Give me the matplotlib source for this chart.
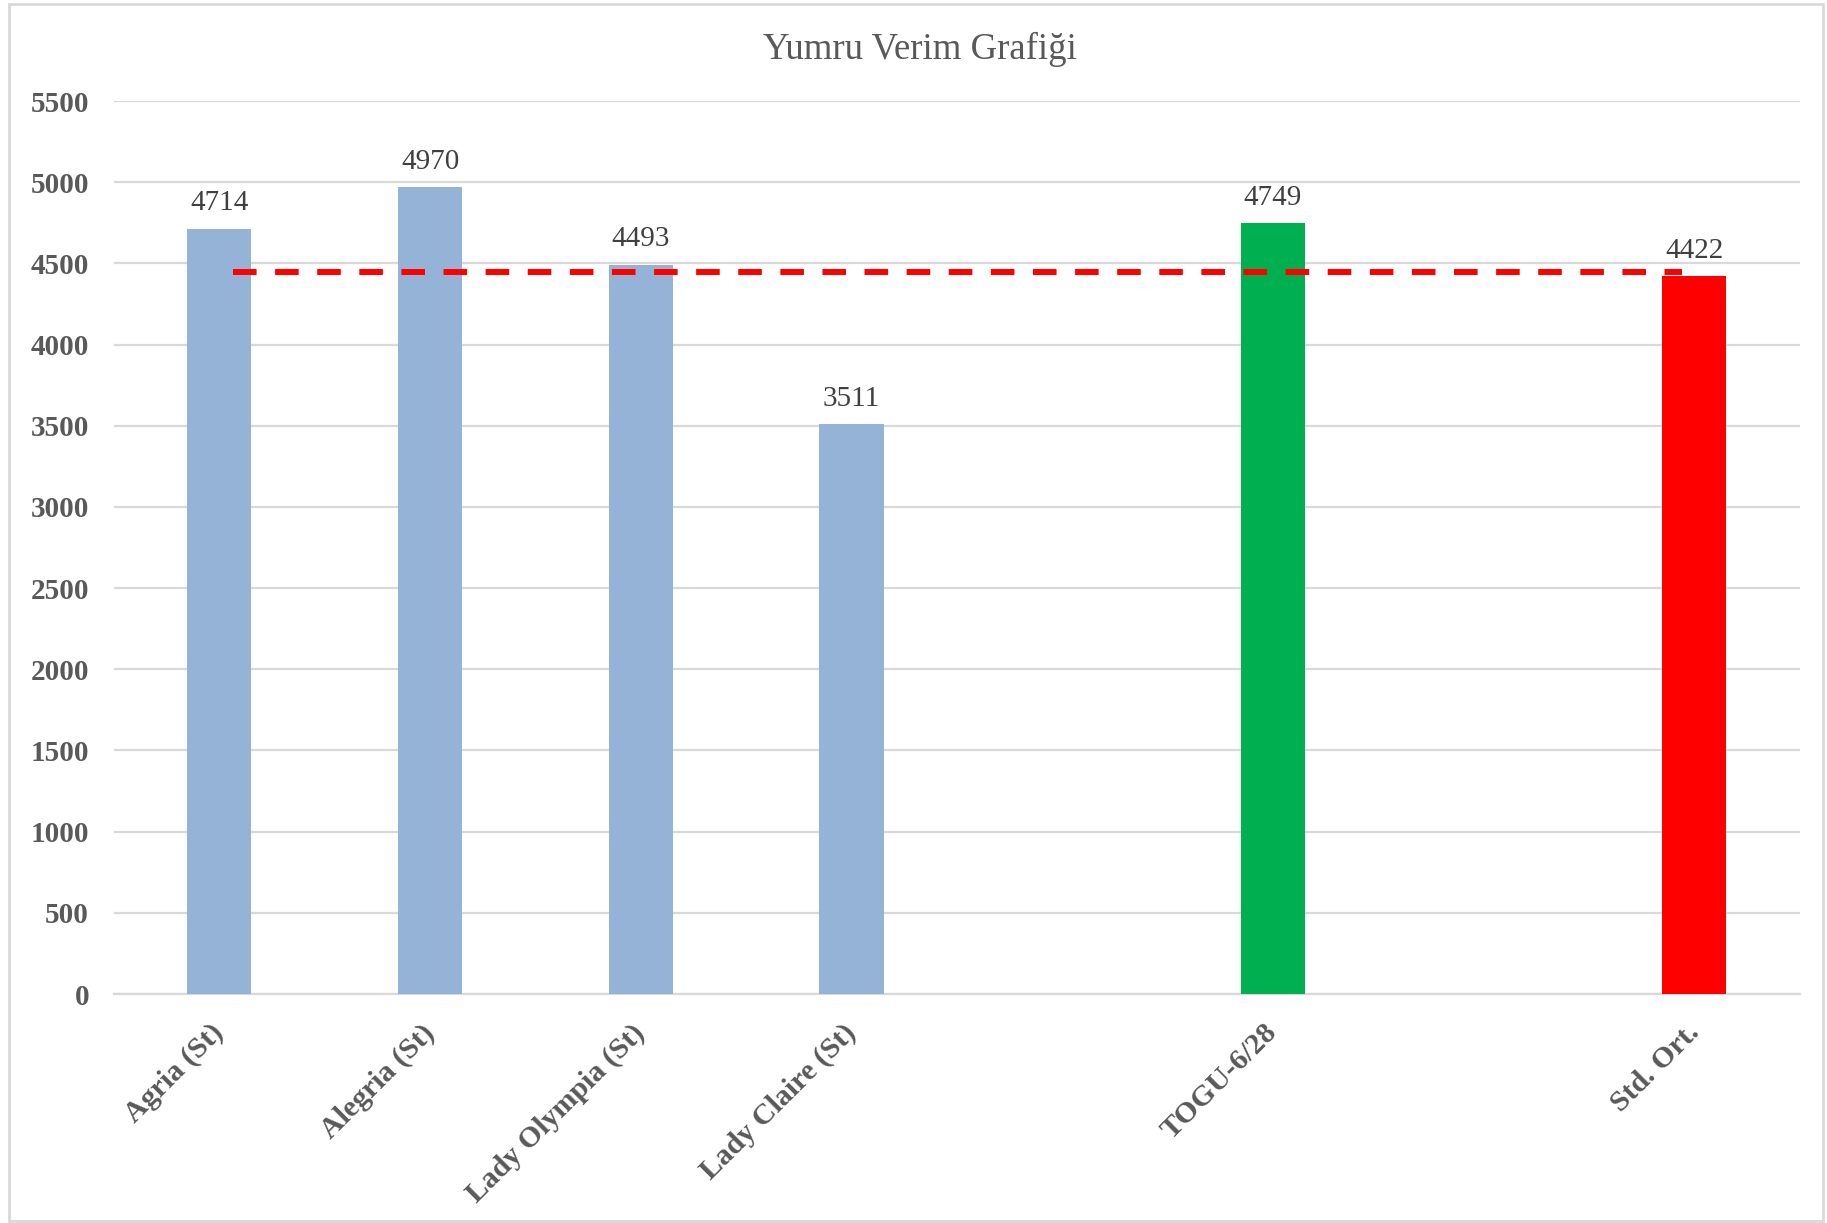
import matplotlib
matplotlib.use("Agg")
import matplotlib.pyplot as plt
from matplotlib.patches import Rectangle
from matplotlib.transforms import ScaledTranslation

categories = ["Agria (St)", "Alegria (St)", "Lady Olympia (St)", "Lady Claire (St)", "", "TOGU-6/28", "", "Std. Ort."]
values = [4714, 4970, 4493, 3511, None, 4749, None, 4422]
bar_colors = ["#95B3D7", "#95B3D7", "#95B3D7", "#95B3D7", None, "#00B050", None, "#FF0000"]
ref_line = 4450
y_ticks = [0, 500, 1000, 1500, 2000, 2500, 3000, 3500, 4000, 4500, 5000, 5500]
title = "Yumru Verim Grafiği"

plt.rcParams['font.family'] = ['Liberation Serif', 'DejaVu Serif']

fig = plt.figure(figsize=(18.27, 12.23), dpi=100)
ax = fig.add_axes([0.0624, 0.1872, 0.9226, 0.7302])

idx = [i for i, v in enumerate(values) if v is not None]
bars = ax.bar(idx, [values[i] for i in idx], width=0.305,
              color=[bar_colors[i] for i in idx], zorder=3)
for i in idx:
    ax.text(i, values[i] + 75, str(values[i]), ha='center', va='bottom',
            fontsize=21, color='#404040', zorder=4)

ax.plot([0.065, 6.94], [ref_line, ref_line], color='#FF0000', lw=4.3,
        dashes=(3.95, 3.1), zorder=5, solid_capstyle='butt', dash_capstyle='butt')

ax.set_xlim(-0.5, len(categories) - 0.5)
ax.set_ylim(0, 5500)
ax.set_yticks(y_ticks)
ax.set_yticklabels([str(t) for t in y_ticks], fontsize=21, fontweight='bold', color='#595959')
ax.set_xticks(range(len(categories)))
ax.set_xticklabels(categories, rotation=45, ha='right', va='top', fontsize=21.5,
                   fontweight='bold', color='#595959')
ax.tick_params(axis='both', length=0)
ax.tick_params(axis='y', pad=18)
ax.tick_params(axis='x', pad=18)
shift = ScaledTranslation(0.1, 0, fig.dpi_scale_trans)
for lbl in ax.get_xticklabels():
    lbl.set_transform(lbl.get_transform() + shift)
ax.yaxis.grid(True, color='#d9d9d9', lw=1.6, zorder=0)
ax.set_axisbelow(True)
for s in ['top', 'right', 'left']:
    ax.spines[s].set_visible(False)
ax.spines['bottom'].set_color('#d9d9d9')
ax.spines['bottom'].set_linewidth(1.6)
ax.spines['bottom'].set_zorder(2)

fig.text(0.5036, 0.9595, title, ha='center', va='center', fontsize=26.5, color='#595959')

fig.patches.append(Rectangle((0.005, 0.002), 0.993, 0.995, transform=fig.transFigure,
                             fill=False, edgecolor='#d9d9d9', lw=2))

fig.savefig("out.png", dpi=100, facecolor='white')
